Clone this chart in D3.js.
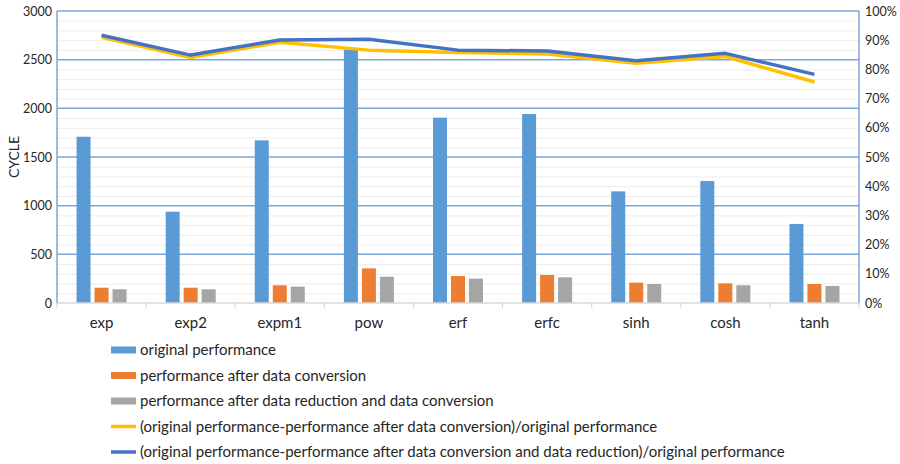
<!DOCTYPE html>
<html>
<head>
<meta charset="utf-8">
<script src="https://cdn.jsdelivr.net/npm/d3@7"></script>
<style>
  html, body { margin: 0; padding: 0; background: #fff; }
  svg { display: block; font-family: Lato, "Open Sans", sans-serif; }
</style>
</head>
<body>
<svg id="chart" width="900" height="464"></svg>
<script>
// Math functions measured
const categories = ["exp", "exp2", "expm1", "pow", "erf", "erfc", "sinh", "cosh", "tanh"];

// Cycle counts per function
const originalPerf   = [1708, 938, 1671, 2600, 1904, 1942, 1147, 1253, 812];
const afterConversion = [157, 157, 182, 356, 277, 288, 209, 202, 195];
const afterReductionConversion = [141, 141, 168, 270, 250, 264, 195, 182, 175];

// Relative savings (fraction of original)
const savingConversion = [0.910, 0.841, 0.893, 0.866, 0.858, 0.853, 0.821, 0.844, 0.757];
const savingBoth       = [0.917, 0.849, 0.901, 0.903, 0.866, 0.863, 0.830, 0.855, 0.783];

const leftTicks = [0, 500, 1000, 1500, 2000, 2500, 3000];
const rightTicks = [0, 0.1, 0.2, 0.3, 0.4, 0.5, 0.6, 0.7, 0.8, 0.9, 1.0];

const barSeries = [
  { name: "original performance", values: originalPerf, color: "#5b9bd5" },
  { name: "performance after data conversion", values: afterConversion, color: "#ed7d31" },
  { name: "performance after data reduction and data conversion", values: afterReductionConversion, color: "#a5a5a5" }
];
const lineSeries = [
  { name: "(original performance-performance after data conversion)/original performance", values: savingConversion, color: "#ffc000" },
  { name: "(original performance-performance after data conversion and data reduction)/original performance", values: savingBoth, color: "#4472c4" }
];

const svg = d3.select("#chart");
const plot = { left: 57, right: 859, top: 11, bottom: 303 };

const x = d3.scaleBand().domain(categories).range([plot.left, plot.right]);
const bw = x.bandwidth();
const xInner = d3.scaleBand()
  .domain(barSeries.map(s => s.name))
  .range([bw / 2 - 25, bw / 2 + 25])
  .paddingInner(4 / 18);

const yLeft = d3.scaleLinear().domain([0, 3000]).range([plot.bottom, plot.top]);
const yRight = d3.scaleLinear().domain([0, 1]).range([plot.bottom, plot.top]);

// minor gridlines every 100 cycles
svg.append("g")
  .selectAll("line")
  .data(d3.range(100, 3000, 100).filter(v => v % 500 !== 0))
  .join("line")
  .attr("x1", plot.left).attr("x2", plot.right)
  .attr("y1", d => yLeft(d) + 0.5).attr("y2", d => yLeft(d) + 0.5)
  .attr("stroke", "#ececec").attr("stroke-width", 1);

// major gridlines
svg.append("g")
  .selectAll("line")
  .data(leftTicks.filter(v => v > 0))
  .join("line")
  .attr("x1", plot.left).attr("x2", plot.right)
  .attr("y1", d => yLeft(d)).attr("y2", d => yLeft(d))
  .attr("stroke", "#7ba7d6").attr("stroke-width", 1.5);

// plot frame sides
svg.append("g").selectAll("line")
  .data([plot.left, plot.right])
  .join("line")
  .attr("x1", d => d).attr("x2", d => d)
  .attr("y1", plot.top).attr("y2", plot.bottom)
  .attr("stroke", "#7ba7d6").attr("stroke-width", 1.5);

// bars
const groups = svg.append("g")
  .selectAll("g")
  .data(categories)
  .join("g")
  .attr("transform", d => `translate(${x(d)},0)`);

groups.selectAll("rect")
  .data((c, i) => barSeries.map(s => ({ s, v: s.values[i] })))
  .join("rect")
  .attr("x", d => xInner(d.s.name))
  .attr("width", xInner.bandwidth())
  .attr("y", d => yLeft(d.v))
  .attr("height", d => yLeft(0) - yLeft(d.v))
  .attr("fill", d => d.s.color);

// bottom category axis
const xAxis = svg.append("g")
  .attr("transform", `translate(0,${plot.bottom})`);
xAxis.append("line")
  .attr("x1", plot.left).attr("x2", plot.right)
  .attr("stroke", "#d9d9d9").attr("stroke-width", 1.5);
xAxis.selectAll("line.tick")
  .data(categories.map(c => x(c)).concat([plot.right]))
  .join("line")
  .attr("class", "tick")
  .attr("x1", d => d).attr("x2", d => d)
  .attr("y1", 0).attr("y2", 5)
  .attr("stroke", "#d9d9d9").attr("stroke-width", 1.2);
xAxis.selectAll("text")
  .data(categories)
  .join("text")
  .attr("x", d => x(d) + bw / 2)
  .attr("y", 25)
  .attr("text-anchor", "middle")
  .attr("fill", "#262626")
  .style("font-size", "15px")
  .text(d => d);

// left axis
const leftAxis = d3.axisLeft(yLeft).tickValues(leftTicks).tickSize(0).tickPadding(5).tickFormat(d3.format("d"));
svg.append("g")
  .attr("transform", `translate(${plot.left},0)`)
  .call(leftAxis)
  .call(g => g.select(".domain").remove())
  .call(g => g.selectAll("text").attr("fill", "#262626").style("font-size", "12.5px").style("font-family", "Lato, sans-serif"));

// right axis
const rightAxis = d3.axisRight(yRight).tickValues(rightTicks).tickSize(0).tickPadding(6).tickFormat(d3.format(".0%"));
svg.append("g")
  .attr("transform", `translate(${plot.right},0)`)
  .call(rightAxis)
  .call(g => g.select(".domain").remove())
  .call(g => g.selectAll("text").attr("fill", "#262626").style("font-size", "12.5px").style("font-family", "Lato, sans-serif"));

// axis title
svg.append("text")
  .attr("transform", `translate(19,${(plot.top + plot.bottom) / 2}) rotate(-90)`)
  .attr("text-anchor", "middle")
  .attr("fill", "#262626")
  .style("font-size", "14px")
  .text("CYCLE");

// saving lines
const line = d3.line()
  .x((d, i) => x(categories[i]) + bw / 2)
  .y(d => yRight(d));

svg.append("g")
  .selectAll("path")
  .data(lineSeries)
  .join("path")
  .attr("d", d => line(d.values))
  .attr("fill", "none")
  .attr("stroke", d => d.color)
  .attr("stroke-width", 3.5)
  .attr("stroke-linejoin", "round");

// legend
const legendItems = barSeries.map(s => ({ name: s.name, color: s.color, kind: "bar" }))
  .concat(lineSeries.map(s => ({ name: s.name, color: s.color, kind: "line" })));
const legendY = d3.scalePoint().domain(legendItems.map(d => d.name)).range([350, 452]);

const legend = svg.append("g")
  .selectAll("g")
  .data(legendItems)
  .join("g")
  .attr("transform", d => `translate(111,${legendY(d.name)})`);

legend.append("rect")
  .attr("x", 0)
  .attr("y", d => d.kind === "bar" ? -3.5 : -1.75)
  .attr("width", 25)
  .attr("height", d => d.kind === "bar" ? 7 : 3.5)
  .attr("fill", d => d.color);

legend.append("text")
  .attr("x", 29)
  .attr("y", 0)
  .attr("dy", "0.36em")
  .attr("fill", "#262626")
  .style("font-size", "15px")
  .text(d => d.name);
</script>
</body>
</html>
